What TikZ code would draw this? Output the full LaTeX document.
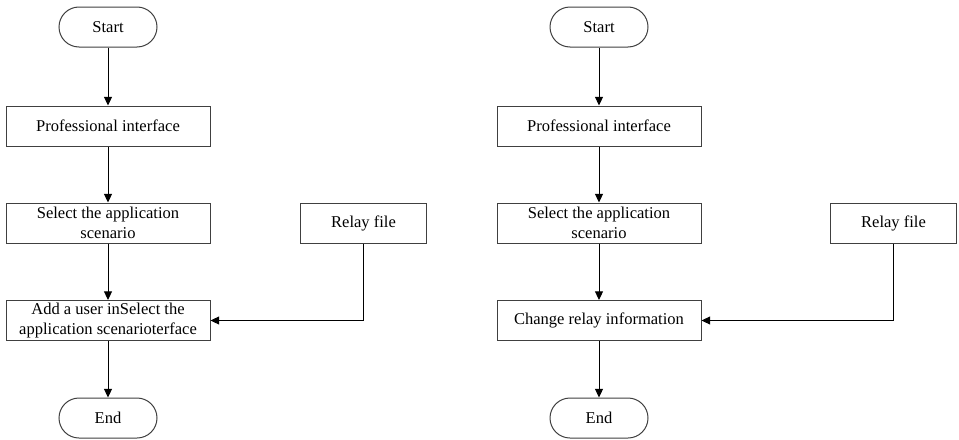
\documentclass[tikz,border=0pt]{standalone}
\usepackage{fontspec}
\setmainfont{Liberation Serif}
\usetikzlibrary{arrows.meta}

\begin{document}
\begin{tikzpicture}[x=0.75pt, y=-0.75pt,
    every node/.style={font=\fontsize{12.4}{15.5}\selectfont, text=black},
    term/.style={draw=black!75, line width=0.75pt, rounded corners=15pt,
                 minimum width=73.5pt, minimum height=30pt},
    proc/.style={draw=black!75, line width=0.75pt, minimum width=153pt,
                 minimum height=30pt, align=center, inner sep=1pt},
    side/.style={draw=black!75, line width=0.75pt, minimum width=94pt,
                 minimum height=30pt},
    flow/.style={-{Triangle[length=6.5pt, width=6pt]}, line width=0.75pt, black}]
  % canvas
  \fill[white] (0,0) rectangle (959,439);

  % left chart: adding a user
  \node[term] (startA) at (108,27) {Start};
  \node[proc] (profA)  at (108,126) {Professional interface};
  \node[proc] (selA)   at (108,223) {Select the application\\scenario};
  \node[proc] (addA)   at (108,320.5) {Add a user inSelect the\\application scenarioterface};
  \node[term] (endA)   at (108,418) {End};
  \node[side] (relayA) at (363.5,223) {Relay file};

  \draw[flow] (startA) -- (profA);
  \draw[flow] (profA) -- (selA);
  \draw[flow] (selA) -- (addA);
  \draw[flow] (addA) -- (endA);
  \draw[flow] (relayA.south) |- (addA.east);

  % right chart: changing relay data
  \node[term] (startB) at (599,27) {Start};
  \node[proc] (profB)  at (599,126) {Professional interface};
  \node[proc] (selB)   at (599,223) {Select the application\\scenario};
  \node[proc] (chgB)   at (599,320.5) {Change relay information};
  \node[term] (endB)   at (599,418) {End};
  \node[side] (relayB) at (893.5,223) {Relay file};

  \draw[flow] (startB) -- (profB);
  \draw[flow] (profB) -- (selB);
  \draw[flow] (selB) -- (chgB);
  \draw[flow] (chgB) -- (endB);
  \draw[flow] (relayB.south) |- (chgB.east);
\end{tikzpicture}
\end{document}
